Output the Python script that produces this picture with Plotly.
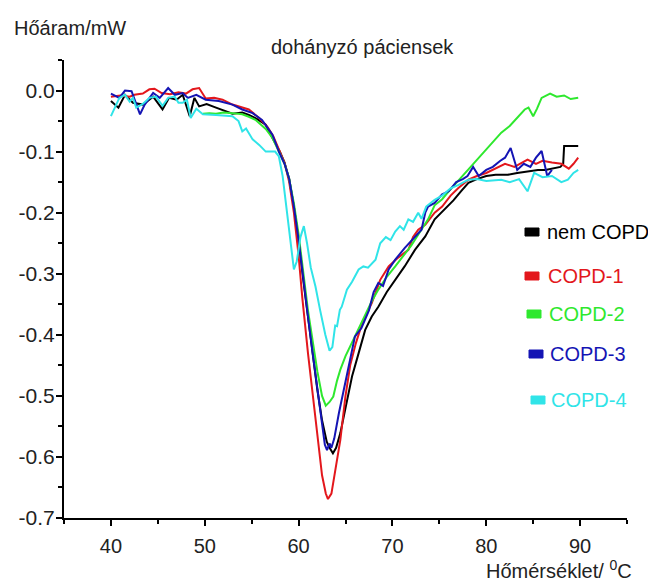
import plotly.graph_objects as go

# ---------------- data ----------------
nem_copd_x = [40, 40.8, 41.5, 42.35, 43.4, 44.5, 45.5, 46.2, 47.0, 47.65, 48.4, 48.9, 49.4, 50.2, 51.2, 52.0,
              52.95, 54.0, 54.7, 55.5, 56.5, 56.9, 57.5, 58.0, 58.5, 59.0, 59.5, 60.0, 60.5, 61.0, 61.5, 62.0,
              62.5, 63.0, 63.3, 63.66, 64.0, 64.45, 65.0, 65.7, 66.4, 67.1, 67.8, 68.5, 69.4, 70.3, 71.3, 72.4,
              73.5, 74.5, 75.5, 76.5, 77.3, 78.1, 79.0, 80.0, 81.0, 82.3, 83.3, 84.5, 85.5, 86.3, 87.2, 87.9,
              88.2, 88.3, 89.0, 89.8]
nem_copd_y = [-0.017, -0.028, -0.007, -0.02, -0.023, -0.01, -0.031, -0.012, -0.015, -0.007, -0.042, -0.012,
              -0.026, -0.022, -0.028, -0.033, -0.038, -0.036, -0.04, -0.046, -0.056, -0.069, -0.085, -0.1,
              -0.118, -0.145, -0.19, -0.244, -0.31, -0.37, -0.43, -0.49, -0.54, -0.575, -0.585, -0.594,
              -0.585, -0.561, -0.52, -0.468, -0.43, -0.392, -0.37, -0.354, -0.33, -0.31, -0.288, -0.261,
              -0.239, -0.211, -0.195, -0.18, -0.165, -0.151, -0.145, -0.14, -0.138, -0.138, -0.135, -0.132,
              -0.13, -0.13, -0.127, -0.125, -0.12, -0.091, -0.091, -0.091]

copd1_x = [40, 41, 42, 42.5, 43.4, 44.1, 44.65, 45.4, 46.3, 47.2, 48.0, 48.7, 49.4, 50.1, 51.0, 51.9, 52.95,
           53.8, 54.7, 55.8, 56.7, 57.3, 58.0, 58.5, 59.0, 59.5, 60.0, 60.4, 61.0, 61.5, 62.0, 62.5, 62.9,
           63.13, 63.5, 63.8, 64.1, 64.45, 65.0, 65.5, 66.1, 66.8, 67.8, 68.7, 69.6, 70.5, 71.7, 72.2, 72.75,
           73.5, 74.5, 75.3, 76.2, 77.0, 78.1, 79.0, 80.0, 81.0, 82.0, 83.0, 84.4, 85.3, 86.0, 87.0, 88.0,
           88.8, 89.3, 89.8]
copd1_y = [-0.01, -0.008, -0.01, -0.007, -0.005, 0.002, 0.003, -0.004, -0.006, -0.003, -0.005, 0.002, 0.004,
           -0.013, -0.012, -0.015, -0.023, -0.027, -0.031, -0.045, -0.06, -0.075, -0.1, -0.118, -0.15, -0.2,
           -0.27, -0.34, -0.43, -0.5, -0.57, -0.63, -0.66, -0.669, -0.66, -0.63, -0.6, -0.572, -0.5, -0.45,
           -0.414, -0.38, -0.348, -0.31, -0.288, -0.275, -0.261, -0.24, -0.228, -0.22, -0.2, -0.19, -0.172,
           -0.16, -0.146, -0.14, -0.135, -0.128, -0.12, -0.125, -0.113, -0.12, -0.115, -0.118, -0.12, -0.128,
           -0.12, -0.11]

copd2_x = [49.8, 50.5, 51.2, 52.0, 52.95, 54.0, 54.7, 55.4, 56.5, 57.2, 57.9, 58.5, 59.0, 59.5, 60.0, 60.5,
           61.0, 61.5, 62.0, 62.5, 62.9, 63.3, 63.7, 64.1, 64.45, 65.0, 65.5, 66.2, 67.0, 67.8, 68.5, 69.4,
           70.3, 71.2, 72.0, 73.0, 73.8, 74.5, 75.3, 76.0, 77.0, 78.1, 79.0, 80.0, 81.0, 81.6, 82.5, 83.3,
           84.1, 84.5, 85.0, 85.4, 85.9, 86.8, 87.5, 88.3, 89.0, 89.8]
copd2_y = [-0.038, -0.037, -0.038, -0.036, -0.037, -0.039, -0.043, -0.048, -0.063, -0.077, -0.1, -0.12,
           -0.145, -0.185, -0.235, -0.3, -0.36, -0.41, -0.46, -0.5, -0.516, -0.51, -0.501, -0.475, -0.457,
           -0.435, -0.419, -0.395, -0.37, -0.345, -0.326, -0.305, -0.288, -0.27, -0.254, -0.23, -0.211,
           -0.188, -0.178, -0.165, -0.148, -0.13, -0.115, -0.098, -0.08, -0.069, -0.058, -0.045, -0.031,
           -0.028, -0.042, -0.03, -0.012, -0.005, -0.01, -0.008, -0.014, -0.012]

copd3_x = [40, 40.9, 41.5, 42.2, 43.1, 43.6, 44.5, 45.2, 46.1, 46.8, 47.65, 48.2, 49.1, 50.1, 51.5, 52.95,
           54.0, 55.1, 56.1, 57.2, 57.9, 58.5, 59.0, 59.5, 60.0, 60.5, 61.0, 61.5, 62.0, 62.5, 62.8, 63.03,
           63.3, 63.5, 63.8, 64.3, 65.0, 65.5, 66.0, 66.7, 67.5, 68.0, 68.5, 69.0, 69.6, 70.3, 71.3, 72.4,
           73.1, 73.5, 73.8, 74.5, 75.3, 76.0, 76.8, 77.5, 78.0, 78.6, 79.2, 80.0, 80.7, 81.5, 82.0, 82.6,
           83.3, 84.0, 84.7, 85.3, 85.9, 86.5, 87.0]
copd3_y = [-0.005, -0.012, 0.0, -0.001, -0.039, -0.023, -0.004, -0.012, 0.004, -0.007, -0.004, -0.012,
           -0.007, -0.015, -0.017, -0.023, -0.031, -0.037, -0.048, -0.072, -0.1, -0.12, -0.145, -0.19,
           -0.244, -0.31, -0.37, -0.43, -0.49, -0.55, -0.58, -0.589, -0.578, -0.585, -0.57, -0.528, -0.479,
           -0.44, -0.403, -0.389, -0.36, -0.33, -0.315, -0.32, -0.293, -0.277, -0.258, -0.239, -0.228, -0.2,
           -0.19, -0.184, -0.17, -0.165, -0.15, -0.145, -0.14, -0.125, -0.14, -0.13, -0.125, -0.115, -0.11,
           -0.094, -0.13, -0.12, -0.125, -0.11, -0.099, -0.14, -0.13]

copd4_x = [40, 40.4, 40.9, 41.5, 42.0, 42.35, 42.7, 43.4, 44.1, 44.8, 45.5, 46.1, 46.8, 47.2, 47.65, 48.1,
           48.5, 49.1, 49.8, 51.2, 52.95, 53.6, 54.0, 54.4, 55.1, 55.8, 56.5, 57.5, 57.9, 58.3, 58.8, 59.2,
           59.5, 59.8, 60.2, 60.56, 60.9, 61.3, 61.8, 62.3, 62.85, 63.3, 63.6, 63.9, 64.1, 64.4, 64.6, 65.15,
           65.7, 66.4, 66.9, 67.4, 68.2, 68.7, 69.3, 69.8, 70.3, 70.8, 71.2, 71.7, 72.2, 72.75, 73.1, 73.6,
           74.5, 75.3, 76.2, 77.0, 78.1, 79.0, 80.0, 81.6, 82.5, 83.5, 84.4, 85.1, 86.0, 87.0, 88.0, 88.7,
           89.3, 89.8]
copd4_y = [-0.042, -0.028, -0.012, -0.007, -0.018, -0.012, -0.028, -0.022, -0.012, -0.01, -0.025, -0.012,
           -0.01, -0.02, -0.02, -0.015, -0.045, -0.03, -0.039, -0.04, -0.042, -0.05, -0.067, -0.062, -0.08,
           -0.089, -0.1, -0.1, -0.108, -0.14, -0.2, -0.25, -0.293, -0.28, -0.24, -0.222, -0.25, -0.29,
           -0.321, -0.36, -0.4, -0.426, -0.42, -0.385, -0.386, -0.359, -0.354, -0.326, -0.313, -0.293,
           -0.288, -0.29, -0.277, -0.25, -0.24, -0.245, -0.231, -0.222, -0.228, -0.211, -0.215, -0.2, -0.21,
           -0.19, -0.179, -0.172, -0.16, -0.155, -0.146, -0.145, -0.148, -0.146, -0.15, -0.145, -0.165,
           -0.135, -0.142, -0.14, -0.15, -0.146, -0.135, -0.13]

series_names = ["nem COPD", "COPD-1", "COPD-2", "COPD-3", "COPD-4"]
series_colors = ["#000000", "#e3171c", "#2ee82e", "#1414b4", "#30e4e8"]

x_tick_vals = [40, 50, 60, 70, 80, 90]
x_tick_text = ["40", "50", "60", "70", "80", "90"]
y_tick_vals = [0.0, -0.1, -0.2, -0.3, -0.4, -0.5, -0.6, -0.7]
y_tick_text = ["0.0", "-0.1", "-0.2", "-0.3", "-0.4", "-0.5", "-0.6", "-0.7"]

title_text = "dohányzó páciensek"
y_title = "Hőáram/mW"
x_title = "Hőmérséklet/ <sup>0</sup>C"

# ---------------- figure ----------------
# page has an 8px body margin: positions below are page pixels, converted to figure pixels
OFF = 8
W, H = 656, 583
L, T = 64 - OFF, 60 - OFF
PW, PH = 563, 458
R, B = W - L - PW, H - T - PH

def px2paper(px, py):
    fx, fy = px - OFF, py - OFF
    return (fx - L) / PW, (T + PH - fy) / PH

FONT = "Liberation Sans, Arial, sans-serif"
TXT = "#222222"

xs = [nem_copd_x, copd1_x, copd2_x, copd3_x, copd4_x]
ys = [nem_copd_y, copd1_y, copd2_y, copd3_y, copd4_y]

fig = go.Figure()
for name, col, x, y in zip(series_names, series_colors, xs, ys):
    fig.add_trace(go.Scatter(x=x, y=y, mode="lines", name=name,
                             line=dict(color=col, width=2), showlegend=False))

axis_common = dict(showline=True, linecolor="black", linewidth=2, ticks="outside",
                   tickcolor="black", tickwidth=2, ticklen=6, showgrid=False, zeroline=False,
                   mirror=False)

fig.update_xaxes(range=[35, 95], tickmode="array", tickvals=x_tick_vals, ticktext=x_tick_text,
                 ticklabelstandoff=3, tickfont=dict(family=FONT, size=20, color=TXT),
                 minor=dict(dtick=5, tick0=35, ticks="outside", ticklen=4, tickwidth=2, tickcolor="black"),
                 **axis_common)
fig.update_yaxes(range=[-0.7, 0.05], tickmode="array", tickvals=y_tick_vals, ticktext=y_tick_text,
                 ticklabelstandoff=-3, tickfont=dict(family=FONT, size=21, color=TXT),
                 minor=dict(dtick=0.05, tick0=0, ticks="outside", ticklen=4, tickwidth=2, tickcolor="black"),
                 **axis_common)

annotations = []
tx, ty = px2paper(362, 47)
annotations.append(dict(text=title_text, x=tx, y=ty, xref="paper", yref="paper", showarrow=False,
                        xanchor="center", yanchor="middle", font=dict(family=FONT, size=20, color=TXT)))
ax_, ay_ = px2paper(12, 28)
annotations.append(dict(text=y_title, x=ax_, y=ay_, xref="paper", yref="paper", showarrow=False,
                        xanchor="left", yanchor="middle", font=dict(family=FONT, size=20, color=TXT)))
bx, by = px2paper(634, 569)
annotations.append(dict(text=x_title, x=bx, y=by, xref="paper", yref="paper", showarrow=False,
                        xanchor="right", yanchor="middle", font=dict(family=FONT, size=20, color=TXT)))

# legend (manual): swatch left, swatch centre y, text left (page pixels)
legend_rows = [(525, 232, 545), (525, 276, 546), (527, 314, 547), (529, 354, 548), (531, 400, 549)]
shapes = []
for (sx, sy, txp), name, col in zip(legend_rows, series_names, series_colors):
    x0, y0 = px2paper(sx, sy + 4)
    x1, y1 = px2paper(sx + 14, sy - 4)
    shapes.append(dict(type="rect", xref="paper", yref="paper", x0=x0, y0=y0, x1=x1, y1=y1,
                       fillcolor=col, line=dict(color=col, width=1)))
    lx, ly = px2paper(txp, sy)
    annotations.append(dict(text=name, x=lx, y=ly, xref="paper", yref="paper", showarrow=False,
                            xanchor="left", yanchor="middle", font=dict(family=FONT, size=20, color=col)))

fig.update_layout(width=W, height=H, margin=dict(l=L, r=R, t=T, b=B, autoexpand=False),
                  plot_bgcolor="white", paper_bgcolor="white", showlegend=False,
                  annotations=annotations, shapes=shapes)

fig.write_html("out.html")
